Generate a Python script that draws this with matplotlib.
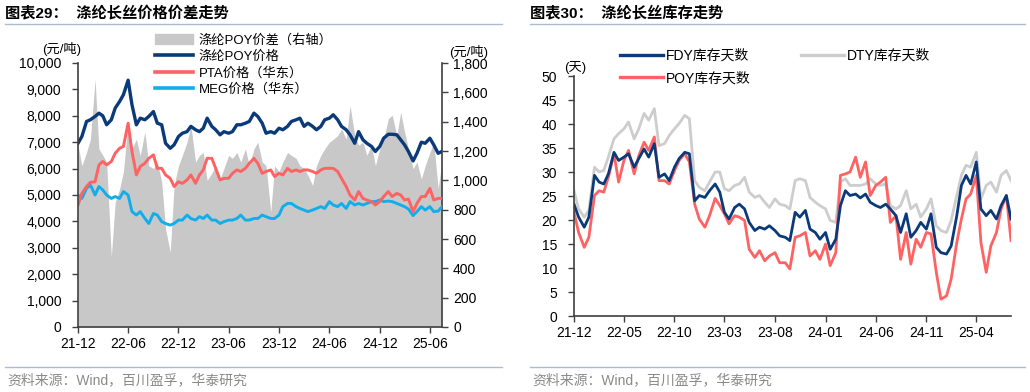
import pandas as pd
import matplotlib
matplotlib.use("Agg")
import matplotlib.pyplot as plt
import matplotlib.dates as mdates
from matplotlib.lines import Line2D
from matplotlib.patches import Patch
from matplotlib.ticker import FuncFormatter, MultipleLocator

plt.rcParams['font.family'] = ['Liberation Sans', 'Noto Sans CJK SC']

# semi-monthly observations, 2021-12 .. 2025-07
dates = pd.date_range('2021-12-01', periods=88, freq='SMS')

# left chart: prices (yuan/ton)
poy_price = [
    6960, 7215, 7785, 7850, 7975, 8100, 8000, 7660, 7850, 8290,
    8540, 8800, 9350, 8420, 7660, 7910, 7850, 7975, 8160, 7720,
    7660, 6960, 6770, 6900, 7215, 7340, 7400, 7600, 7470, 7400,
    7530, 7910, 7600, 7470, 7280, 7400, 7340, 7400, 7660, 7660,
    7720, 7785, 8100, 7975, 7720, 7340, 7400, 7340, 7530, 7470,
    7600, 7785, 7850, 7910, 7600, 7720, 7600, 7470, 7600, 7850,
    7910, 8040, 7850, 7600, 7470, 7280, 6960, 7400, 7090, 6960,
    6840, 6650, 6840, 7150, 7300, 7300, 7280, 7090, 6900, 6650,
    6290, 6580, 7000, 6960, 7150, 6900, 6580, 6650,
]
pta_price = [
    4620, 5060, 5320, 5480, 5500, 6140, 6270, 6140, 6270, 6580,
    6770, 6840, 7720, 6650, 5760, 6080, 6200, 6390, 6520, 6010,
    6010, 5760, 5630, 5320, 5500, 5440, 5570, 5760, 5440, 5760,
    5950, 6390, 6390, 6010, 5570, 5630, 5630, 5820, 5950, 5890,
    6010, 6200, 6390, 6200, 5820, 5890, 5950, 5700, 5820, 5760,
    6010, 5890, 5950, 5890, 5950, 5950, 5890, 5820, 5950, 6010,
    6010, 6010, 5890, 5630, 5320, 5000, 4810, 5130, 4870, 4810,
    4750, 4620, 4750, 4940, 5130, 4940, 5060, 5000, 4810, 4850,
    4370, 4680, 4940, 4940, 5250, 4810, 4870, 4870,
]
meg_price = [
    5000, 4870, 5250, 5380, 5000, 5320, 5190, 5000, 4870, 4940,
    4870, 5130, 5000, 4370, 4240, 4370, 4110, 3920, 4300, 4240,
    3990, 3920, 3860, 3920, 4050, 4050, 4240, 4110, 4050, 4180,
    4110, 4240, 4050, 4050, 3920, 3990, 4050, 4050, 4110, 4240,
    4050, 4050, 4110, 4110, 4240, 4180, 4110, 4110, 4240, 4560,
    4680, 4680, 4560, 4490, 4430, 4370, 4430, 4490, 4560, 4490,
    4750, 4620, 4560, 4680, 4490, 4750, 4620, 4680, 4620, 4680,
    4750, 4750, 4810, 4750, 4770, 4750, 4680, 4620, 4560, 4470,
    4220, 4370, 4560, 4430, 4560, 4370, 4390, 4560,
]
poy_spread = [
    1240, 1100, 1190, 1280, 1690, 1215, 1170, 1125, 480, 850,
    940, 1060, 1400, 1215, 1280, 1170, 1330, 1100, 1080, 1125,
    990, 670, 510, 965, 1100, 1170, 1260, 1375, 1125, 1170,
    1190, 1000, 1050, 1100, 1010, 1080, 1170, 1150, 1190, 1125,
    1215, 1100, 1215, 1260, 1125, 1100, 785, 1100, 1060, 1125,
    1190, 1170, 1150, 1100, 1080, 1035, 965, 1100, 1170, 1215,
    1260, 1280, 1305, 1350, 1280, 1510, 1305, 1240, 1260, 1170,
    1240, 1100, 1215, 1280, 1420, 1445, 1305, 1465, 1330, 1215,
    1080, 1125, 1010, 1100, 1190, 1260, 945, 1125,
]

# right chart: inventory days
fdy_days = [
    23.3, 20.6, 18.5, 20.6, 29.3, 27.9, 27.5, 29.6, 34.1, 32.4,
    33.1, 33.8, 31.0, 32.8, 34.8, 33.1, 35.9, 28.9, 29.6, 28.2,
    31.0, 32.8, 34.1, 33.8, 24.0, 25.1, 24.7, 26.1, 27.5, 25.8,
    21.6, 20.2, 22.6, 23.3, 22.3, 19.5, 17.8, 18.5, 18.1, 18.8,
    17.8, 16.7, 16.4, 15.7, 21.6, 20.6, 22.0, 18.1, 17.4, 16.0,
    17.4, 13.9, 16.0, 23.0, 26.1, 25.1, 25.4, 24.6, 25.4, 23.7,
    23.0, 22.6, 23.3, 22.3, 20.9, 17.4, 21.3, 16.4, 17.8, 19.5,
    18.1, 21.3, 14.3, 13.2, 12.9, 14.6, 20.9, 27.2, 29.3, 27.5,
    32.1, 22.3, 20.9, 22.0, 20.2, 23.0, 25.1, 20.2,
]
dty_days = [
    26.1, 22.3, 20.6, 22.0, 31.0, 30.0, 30.3, 33.1, 36.9, 38.0,
    39.0, 40.4, 36.9, 39.0, 42.2, 40.8, 43.2, 35.5, 35.9, 37.6,
    39.0, 40.1, 41.8, 41.1, 28.2, 26.8, 26.1, 27.9, 30.0, 30.0,
    26.5, 26.1, 27.2, 27.5, 28.9, 25.8, 24.7, 25.1, 23.7, 22.6,
    24.4, 23.3, 23.0, 22.3, 28.2, 28.6, 28.2, 24.7, 23.7, 23.0,
    22.3, 19.9, 19.5, 27.9, 28.6, 27.2, 27.2, 27.2, 27.5, 28.6,
    27.5, 27.2, 27.5, 23.0, 22.3, 23.0, 26.1, 22.3, 23.3, 20.6,
    22.3, 24.4, 18.8, 17.8, 17.4, 19.9, 25.1, 29.3, 31.4, 31.0,
    34.1, 24.4, 27.2, 27.9, 25.8, 29.3, 30.3, 28.2,
]
poy_days = [
    21.6, 17.4, 14.3, 16.4, 25.1, 26.1, 25.8, 28.9, 33.8, 27.9,
    32.4, 34.5, 29.6, 33.4, 36.2, 34.5, 37.3, 28.2, 28.2, 27.5,
    30.3, 32.4, 33.8, 32.1, 23.3, 20.2, 18.5, 20.9, 24.5, 23.0,
    21.3, 19.2, 20.9, 20.6, 19.9, 13.9, 12.2, 13.6, 11.5, 12.5,
    13.2, 11.1, 11.1, 9.8, 16.4, 16.7, 17.4, 12.5, 13.6, 11.8,
    15.0, 10.5, 13.2, 29.3, 29.6, 30.0, 33.1, 28.9, 32.1, 25.1,
    27.2, 27.9, 28.9, 19.5, 20.9, 11.8, 17.4, 10.8, 16.0, 14.3,
    17.4, 17.1, 9.1, 3.5, 4.2, 7.7, 15.3, 20.2, 24.4, 25.4,
    29.3, 15.3, 9.1, 14.6, 17.4, 22.3, 25.1, 15.7,
]

NAVY = '#0B3A7A'
RED = '#FF6262'
CYAN = '#12AEEB'
GREY_FILL = '#C8C8C8'
GREY_LINE = '#CDCDCD'
SPINE = '#404040'
W, H = 1030, 392


def fx(px):
    return px / W


def fy(py):
    return 1 - py / H


def style_axis(ax):
    ax.tick_params(direction='out', length=4, width=1, color=SPINE,
                   labelsize=10, colors='black')
    for side in ['left', 'right', 'bottom']:
        ax.spines[side].set_color(SPINE)
        ax.spines[side].set_linewidth(1.2)
    ax.spines['top'].set_visible(False)


def draw_frame(fig, x0, x1, title, src):
    fig.text(fx(x0), fy(13), title, fontsize=11, fontweight='bold', va='center')
    fig.add_artist(Line2D([fx(x0), fx(x1)], [fy(24), fy(24)], color='#A9BCD0', lw=1))
    fig.add_artist(Line2D([fx(x0), fx(x1)], [fy(367), fy(367)], color='#A9BCD0', lw=1))
    fig.text(fx(x0 + 2), fy(380), src, fontsize=10, color='#8A8A8A', va='center')


def plot_prices(fig):
    ax = fig.add_axes([fx(78), fy(327), fx(364), 264 / H])
    ax2 = ax.twinx()
    ax2.fill_between(dates, 0, poy_spread, color=GREY_FILL, lw=0)
    ax2.set_ylim(0, 1800)
    ax2.yaxis.set_major_locator(MultipleLocator(200))

    ax.set_zorder(ax2.get_zorder() + 1)
    ax.patch.set_visible(False)
    ax.plot(dates, meg_price, color=CYAN, lw=2.1)
    ax.plot(dates, pta_price, color=RED, lw=2.1)
    ax.plot(dates, poy_price, color=NAVY, lw=2.4)
    ax.set_ylim(0, 10000)
    ax.yaxis.set_major_locator(MultipleLocator(1000))
    ax.set_xlim(dates[0], dates[-1])
    ax2.set_xlim(dates[0], dates[-1])

    fmt = FuncFormatter(lambda v, _: f'{v:,.0f}')
    ax.yaxis.set_major_formatter(fmt)
    ax2.yaxis.set_major_formatter(fmt)
    ax.xaxis.set_major_locator(mdates.MonthLocator(bymonth=[6, 12]))
    ax.xaxis.set_major_formatter(mdates.DateFormatter('%y-%m'))

    style_axis(ax)
    style_axis(ax2)
    ax.spines['right'].set_visible(False)
    ax2.spines['left'].set_visible(False)
    ax2.spines['bottom'].set_visible(False)
    ax.tick_params(axis='y', pad=8)
    ax2.tick_params(axis='y', pad=4)

    fig.text(fx(62), fy(49), '(元/吨)', fontsize=9.5, ha='center', va='center')
    fig.text(fx(469), fy(52), '(元/吨)', fontsize=9.5, ha='center', va='center')

    handles = [Patch(color=GREY_FILL),
               Line2D([], [], color=NAVY, lw=2.6),
               Line2D([], [], color=RED, lw=2.6),
               Line2D([], [], color=CYAN, lw=2.6)]
    labels = ['涤纶POY价差（右轴）', '涤纶POY价格', 'PTA价格（华东）', 'MEG价格（华东）']
    fig.legend(handles, labels, loc='upper left', bbox_to_anchor=(fx(155), fy(34)),
               frameon=False, fontsize=9.5, handlelength=2.9, handletextpad=0.4,
               labelspacing=0.3, borderpad=0, borderaxespad=0)


def plot_inventory(fig):
    ax = fig.add_axes([fx(574), fy(316), fx(437), 240 / H])
    ax.plot(dates, dty_days, color=GREY_LINE, lw=2.0)
    ax.plot(dates, poy_days, color=RED, lw=2.0)
    ax.plot(dates, fdy_days, color=NAVY, lw=2.0)
    ax.set_ylim(0, 50)
    ax.yaxis.set_major_locator(MultipleLocator(5))
    ax.set_xlim(dates[0], dates[-1])
    ticks = pd.date_range('2021-12-01', periods=9, freq='5MS')
    ax.set_xticks(ticks)
    ax.xaxis.set_major_formatter(mdates.DateFormatter('%y-%m'))

    style_axis(ax)
    ax.spines['right'].set_visible(False)
    ax.tick_params(axis='y', pad=8)

    fig.text(fx(575), fy(67), '(天)', fontsize=9.5, ha='center', va='center')

    handles = [Line2D([], [], color=NAVY, lw=2.4),
               Line2D([], [], color=RED, lw=2.4),
               Line2D([], [], color=GREY_LINE, lw=2.4)]
    labels = ['FDY库存天数', 'POY库存天数', 'DTY库存天数']
    fig.legend(handles, labels, loc='upper left', bbox_to_anchor=(fx(620), fy(49)),
               ncol=2, frameon=False, fontsize=10, handlelength=3.1, handletextpad=0.2,
               labelspacing=0.6, columnspacing=3.6, borderpad=0, borderaxespad=0)


def main():
    fig = plt.figure(figsize=(W / 100, H / 100), dpi=100)
    src = '资料来源：Wind，百川盈孚，华泰研究'
    draw_frame(fig, 5, 502, '图表29：  涤纶长丝价格价差走势', src)
    draw_frame(fig, 530, 1025, '图表30：  涤纶长丝库存走势', src)
    plot_prices(fig)
    plot_inventory(fig)
    fig.savefig('out.png', dpi=100)


if __name__ == "__main__":
    main()
